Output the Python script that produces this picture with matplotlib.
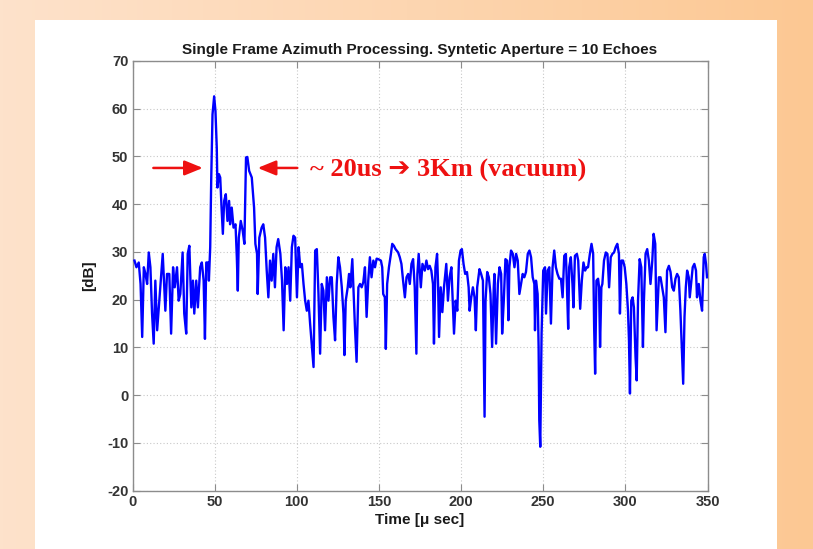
import numpy as np
import matplotlib
matplotlib.use("Agg")
import matplotlib.pyplot as plt
from matplotlib.colors import LinearSegmentedColormap

plt.rcParams["axes.unicode_minus"] = False

# ---- data (time in microseconds, level in dB) ----
time_us = [
    1.2, 2.4, 3.8, 4.9, 5.9, 6.9, 7.9, 8.9, 9.9, 10.9, 11.9, 12.9, 13.9, 15.0, 16.6, 18.4, 20.0, 21.0, 22.4, 23.5,
    24.7, 25.7, 27.1, 28.1, 29.1, 30.5, 31.5, 32.7, 33.6, 34.6, 35.8, 36.8, 37.6, 38.8, 39.8, 41.2, 42.2, 43.3, 44.1, 44.9,
    46.1, 46.5, 47.3, 47.9, 48.7, 49.7, 50.5, 51.3, 51.7, 52.6, 53.4, 54.2, 55.0, 55.8, 56.8, 57.8, 58.8, 59.4, 60.4, 61.5,
    62.7, 63.5, 64.1, 64.7, 65.9, 67.1, 68.1, 69.1, 69.9, 71.0, 72.6, 74.0, 74.8, 75.8, 76.2, 77.2, 78.6, 79.6, 80.7, 81.7,
    82.7, 83.7, 84.7, 85.7, 86.7, 87.7, 88.7, 90.0, 91.0, 92.0, 93.0, 94.0, 95.0, 96.0, 97.0, 98.0, 99.0, 100.1, 101.1, 102.1,
    103.1, 104.1, 105.1, 106.1, 107.1, 108.1, 109.2, 110.2, 111.2, 112.2, 113.2, 114.2, 115.2, 116.2, 117.2, 118.3, 119.3, 120.3, 121.3, 122.3,
    123.3, 124.3, 125.3, 126.3, 127.4, 128.4, 129.0, 129.8, 131.0, 131.8, 132.6, 133.8, 134.8, 135.4, 136.4, 137.5, 138.5, 139.5, 140.5, 141.5,
    142.5, 143.5, 144.5, 145.5, 146.6, 147.6, 148.6, 149.6, 151.2, 152.0, 152.6, 153.6, 154.2, 155.0, 156.1, 157.3, 158.1, 159.1, 160.1, 161.7,
    162.7, 163.7, 164.7, 165.8, 166.8, 167.8, 168.8, 169.8, 170.8, 171.8, 172.8, 173.4, 174.2, 175.5, 176.5, 177.9, 178.9, 179.9, 180.9, 181.9,
    182.9, 183.5, 184.4, 185.4, 186.0, 186.6, 187.6, 188.6, 189.6, 191.0, 192.0, 193.0, 194.1, 195.1, 195.7, 196.7, 197.7, 198.7, 199.7, 200.5,
    201.5, 202.5, 203.6, 204.6, 205.2, 206.2, 207.2, 208.2, 209.0, 209.8, 211.2, 212.2, 213.3, 214.3, 214.9, 215.9, 216.9, 217.9, 218.9, 219.9,
    220.3, 221.3, 222.4, 223.4, 224.4, 225.0, 226.0, 227.0, 228.0, 228.8, 229.4, 230.4, 231.5, 232.5, 233.5, 234.5, 235.5, 236.5, 237.5, 238.5,
    239.5, 240.6, 241.6, 242.6, 243.6, 244.6, 245.0, 245.6, 246.6, 247.2, 247.6, 248.2, 249.0, 250.0, 251.1, 251.7, 252.7, 253.7, 254.7, 255.7,
    256.7, 257.7, 258.7, 259.8, 260.8, 261.8, 262.8, 263.8, 264.4, 265.2, 265.8, 266.8, 267.8, 268.4, 269.3, 270.5, 271.3, 272.5, 273.5, 274.5,
    275.5, 276.5, 277.3, 278.4, 279.4, 280.4, 281.0, 281.6, 282.4, 283.4, 284.0, 284.6, 285.4, 286.0, 287.0, 288.1, 289.1, 290.1, 291.1, 292.1,
    293.1, 294.1, 295.1, 296.1, 296.7, 297.6, 298.6, 299.6, 300.6, 301.6, 302.2, 302.8, 303.6, 304.4, 305.2, 306.2, 306.9, 307.7, 308.7, 309.7,
    310.7, 311.3, 312.3, 313.3, 314.3, 315.3, 316.4, 317.2, 318.2, 319.0, 319.8, 320.4, 321.4, 322.4, 323.4, 324.4, 325.4, 326.5, 327.5, 328.5,
    329.5, 330.5, 331.5, 332.5, 333.5, 334.5, 335.2, 336.0, 336.8, 337.6, 338.6, 339.2, 340.0, 341.0, 342.0, 343.0, 343.6, 344.7, 345.7, 346.7,
    347.7, 348.3, 349.1, 349.7,
]
level_db = [
    28.2, 26.8, 27.8, 23.3, 12.2, 26.8, 25.4, 23.3, 29.9, 26.8, 17.1, 10.8, 24.0, 13.6, 21.2, 29.6, 17.7, 25.4, 25.4, 12.9,
    26.8, 22.6, 26.8, 19.8, 21.2, 29.9, 17.1, 12.9, 29.6, 31.3, 18.4, 24.0, 17.1, 24.0, 18.4, 26.8, 27.8, 24.0, 11.8, 27.8,
    27.8, 24.0, 31.0, 44.9, 58.8, 62.6, 59.5, 51.8, 43.5, 46.3, 45.6, 39.3, 33.8, 40.7, 42.1, 36.5, 40.7, 35.8, 39.3, 35.1,
    35.8, 28.9, 21.9, 33.0, 36.5, 34.4, 31.7, 49.8, 49.9, 47.0, 45.6, 39.3, 31.7, 29.6, 21.2, 33.0, 35.1, 35.8, 33.0, 26.1,
    20.5, 28.2, 24.0, 29.6, 22.6, 31.0, 32.7, 29.6, 24.0, 13.6, 26.8, 23.3, 26.8, 19.8, 31.0, 33.4, 33.0, 20.5, 31.0, 26.8,
    27.5, 23.3, 19.8, 17.7, 19.8, 15.0, 10.1, 5.9, 30.3, 30.6, 21.2, 8.7, 23.3, 21.9, 13.6, 24.7, 19.8, 24.7, 24.7, 16.4,
    11.5, 23.3, 28.9, 26.8, 22.6, 17.1, 8.4, 19.8, 22.6, 25.4, 22.6, 28.5, 19.8, 14.3, 7.0, 22.6, 23.3, 22.6, 23.7, 26.8,
    16.4, 24.0, 28.9, 24.7, 28.2, 26.8, 28.6, 28.5, 28.2, 26.8, 21.2, 20.5, 9.7, 23.3, 26.8, 29.6, 31.7, 31.3, 30.6, 29.9,
    28.9, 27.5, 24.0, 20.5, 24.7, 25.4, 23.3, 27.5, 28.5, 22.6, 8.7, 25.4, 29.6, 22.6, 27.5, 26.1, 28.2, 26.4, 27.1, 26.1,
    23.3, 10.8, 26.8, 29.6, 23.3, 12.2, 22.6, 17.4, 22.6, 27.5, 19.8, 24.7, 26.8, 18.4, 12.9, 19.8, 17.7, 28.2, 30.3, 30.6,
    27.5, 25.4, 25.8, 22.6, 17.7, 20.5, 22.6, 20.5, 13.6, 22.6, 26.4, 25.4, 24.0, -4.5, 19.8, 25.8, 24.7, 21.2, 10.1, 22.6,
    25.4, 10.8, 23.3, 26.8, 25.4, 12.9, 19.8, 28.5, 28.2, 15.7, 26.8, 30.3, 29.6, 26.8, 29.6, 28.2, 21.2, 23.3, 25.4, 24.7,
    25.8, 29.6, 30.3, 28.9, 24.7, 23.3, 13.6, 24.0, 21.2, 10.1, -5.2, -10.8, 12.9, 26.1, 26.8, 17.1, 26.1, 26.8, 15.0, 26.8,
    30.3, 26.8, 25.4, 24.4, 24.4, 20.5, 29.2, 29.6, 23.3, 13.9, 26.8, 28.9, 23.3, 18.4, 29.2, 29.6, 28.2, 18.1, 24.0, 27.8,
    26.1, 26.8, 26.8, 29.6, 31.7, 29.6, 14.3, 4.5, 24.0, 24.4, 22.6, 10.1, 22.6, 23.3, 28.2, 29.9, 29.6, 22.6, 28.9, 29.6,
    29.9, 31.0, 31.7, 29.6, 17.1, 28.2, 28.2, 26.8, 23.3, 17.7, 11.5, 0.35, 19.8, 20.5, 18.4, 8.0, 3.1, 19.8, 28.5, 26.8,
    10.1, 19.8, 29.6, 30.6, 28.2, 23.3, 28.2, 33.8, 31.7, 13.6, 19.8, 24.7, 24.7, 22.6, 20.5, 13.2, 26.1, 27.1, 25.8, 22.6,
    21.9, 24.4, 25.4, 24.7, 17.7, 8.7, 2.4, 16.4, 22.6, 26.1, 24.7, 20.5, 23.3, 26.8, 27.5, 26.1, 20.5, 23.3, 19.8, 17.7,
    28.9, 29.6, 27.5, 24.7,
]
x_ticks = [0, 50, 100, 150, 200, 250, 300, 350]
y_ticks = [-20, -10, 0, 10, 20, 30, 40, 50, 60, 70]
title_text = "Single Frame Azimuth Processing. Syntetic Aperture = 10 Echoes"
x_label = "Time [\u03bc sec]"
y_label = "[dB]"
note_text = "~ 20us \u2794 3Km (vacuum)"
left_arrow = (11, 44.5, 47.6)     # start t, end t, level
right_arrow = (102, 74.5, 47.6)
note_pos = (108, 47.0)

W, H = 813, 549
fig = plt.figure(figsize=(W / 100, H / 100), dpi=100)

# orange gradient background
bg = fig.add_axes([0, 0, 1, 1])
grad = np.linspace(0, 1, 256)[None, :]
cmap = LinearSegmentedColormap.from_list("bg", ["#fde2cb", "#fdd6b1", "#fcc893"])
bg.imshow(grad, aspect="auto", cmap=cmap, extent=[0, 1, 0, 1])
bg.set_xlim(0, 1); bg.set_ylim(0, 1)
bg.axis("off")
panel = plt.Rectangle((35 / W, 0), (777 - 35) / W, (H - 20) / H, transform=fig.transFigure,
                      facecolor="white", edgecolor="none", zorder=1)
bg.add_patch(panel)

ax = fig.add_axes([132.5 / W, 1 - 490.7 / H, (707.5 - 132.5) / W, (490.7 - 61) / H])
ax.plot(time_us, level_db, color="#0000ff", lw=1.7, zorder=3)
ax.set_xlim(0, 350)
ax.set_ylim(-20, 70)
ax.set_xticks(x_ticks)
ax.set_yticks(y_ticks)
ax.grid(True, color="#c8c8c8", linestyle=(0, (1, 2)), lw=0.8)
for s in ax.spines.values():
    s.set_color("#8c8c8c")
    s.set_linewidth(1.0)
ax.tick_params(direction="in", length=5, color="#8c8c8c", top=True, right=True,
               labelsize=10.5, labelcolor="#333333", pad=3)
for lab in ax.get_xticklabels() + ax.get_yticklabels():
    lab.set_family("Liberation Sans")
    lab.set_fontweight("bold")

ax.set_title(title_text, fontsize=11, fontweight="bold", family="Liberation Sans",
             color="#1a1a1a", pad=5)
ax.set_xlabel(x_label, fontsize=11, fontweight="bold", family="Liberation Sans",
              color="#1a1a1a", labelpad=3)
ax.set_ylabel(y_label, fontsize=11, fontweight="bold", family="Liberation Sans",
              color="#1a1a1a", labelpad=8)

red = "#ee1111"
ax.annotate("", xy=(left_arrow[1], left_arrow[2]), xytext=(left_arrow[0], left_arrow[2]),
            arrowprops=dict(arrowstyle="-|>,head_length=1.1,head_width=0.45", color=red, lw=1.8))
ax.annotate("", xy=(right_arrow[1], right_arrow[2]), xytext=(right_arrow[0], right_arrow[2]),
            arrowprops=dict(arrowstyle="-|>,head_length=1.1,head_width=0.45", color=red, lw=1.8))
ax.text(note_pos[0], note_pos[1], note_text, color=red, fontsize=19, fontweight="bold",
        family=["Liberation Serif", "DejaVu Sans"], va="center", ha="left", zorder=4)

fig.savefig("out.png", dpi=100)
